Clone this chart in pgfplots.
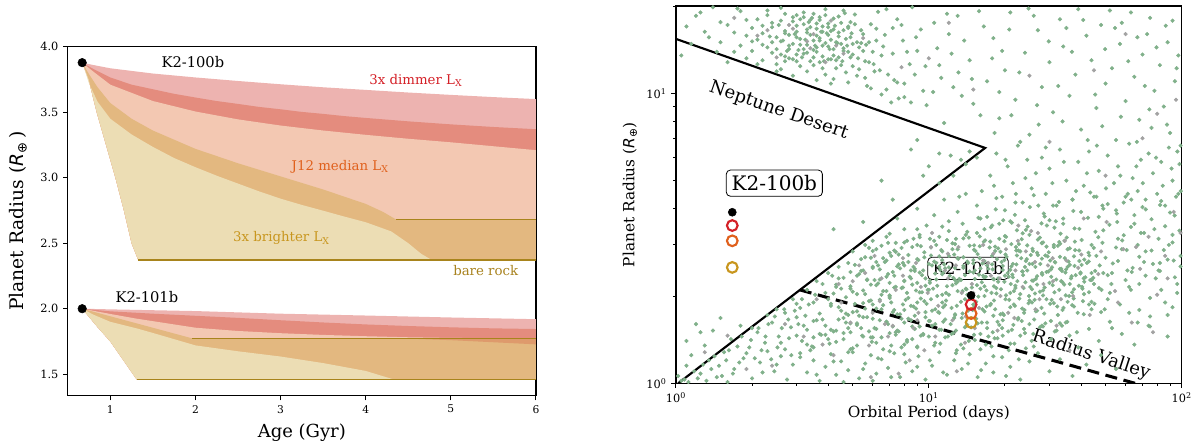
\documentclass[border=0pt]{standalone}
\usepackage{fontspec}
\setmainfont{DejaVu Serif}
\newfontfamily\dvsans{DejaVu Sans}
\usepackage{pgfplots}
\pgfplotsset{compat=1.18}

\definecolor{pinkband}{HTML}{EDB3B0}
\definecolor{redband}{HTML}{E48C7E}
\definecolor{salmon}{HTML}{F3C8B2}
\definecolor{darktan}{HTML}{E3B880}
\definecolor{beige}{HTML}{ECDDB4}
\definecolor{sliver}{HTML}{DE9A6C}
\definecolor{rockline}{HTML}{A8841C}
\definecolor{dimred}{HTML}{D42027}
\definecolor{medorange}{HTML}{E0601C}
\definecolor{brightgold}{HTML}{C8961E}
\definecolor{rocktext}{HTML}{A8821E}
\definecolor{scgreen}{HTML}{80B08A}
\definecolor{scgray}{HTML}{A2A2A2}

\newcommand{\Rearth}{{\dvsans\itshape R}\textsubscript{\dvsans ⊕}}

\begin{document}
\begin{tikzpicture}
\path[use as bounding box] (-50.8pt,-37.7pt) rectangle (847pt,296.8pt);

% ---------------- left: radius evolution ----------------
\begin{axis}[
  at={(0pt,0pt)}, anchor=south west, scale only axis,
  width=351.2pt, height=261.8pt,
  xmin=0.5, xmax=6, ymin=1.336, ymax=4.0,
  xtick={1,2,3,4,5,6}, ytick={1.5,2,2.5,3,3.5,4},
  tick pos=left, tick align=outside, major tick length=3.5pt,
  axis line style={line width=0.9pt},
  every tick/.style={black, line width=0.7pt},
  x tick label style={font=\fontsize{8}{9}\selectfont},
  y tick label style={font=\fontsize{8.5}{10}\selectfont},
  /pgf/number format/assume math mode=true,
  yticklabel={\pgfmathprintnumber[fixed,fixed zerofill,precision=1]{\tick}},
  xlabel={Age (Gyr)}, ylabel={Planet Radius (\Rearth\,)},
  xlabel style={font=\fontsize{13.5}{15}\selectfont, at={(axis description cs:0.5,-0.107)}, anchor=center},
  ylabel style={font=\fontsize{14}{16}\selectfont, at={(axis description cs:-0.106,0.5)}, anchor=center},
]
% K2-100b bands (painted top to bottom)
\addplot[fill=pinkband, draw=none] coordinates {(0.67,3.878)(0.8,3.86)(1,3.835)(1.5,3.795)(2,3.765)(2.5,3.738)(3,3.713)(3.5,3.69)(4,3.67)(4.5,3.65)(5,3.632)(5.5,3.615)(6,3.60)
  (6,2.37)(1.33,2.37)(1.25,2.5)(1.16,2.75)(1.06,3.0)(0.95,3.25)(0.84,3.5)(0.745,3.75)(0.67,3.878)};
\addplot[fill=redband, draw=none] coordinates {(0.67,3.878)(0.8,3.83)(1,3.765)(1.25,3.71)(1.5,3.675)(1.75,3.64)(2,3.612)(2.25,3.585)(2.5,3.563)(2.75,3.54)(3,3.522)(3.25,3.502)(3.5,3.487)(3.75,3.47)(4,3.456)(4.5,3.43)(5,3.407)(5.5,3.387)(6,3.37)
  (6,2.37)(1.33,2.37)(1.25,2.5)(1.16,2.75)(1.06,3.0)(0.95,3.25)(0.84,3.5)(0.745,3.75)(0.67,3.878)};
\addplot[fill=salmon, draw=none] coordinates {(0.67,3.878)(0.8,3.81)(1,3.71)(1.5,3.585)(2,3.505)(2.5,3.445)(3,3.398)(3.5,3.36)(4,3.327)(4.5,3.297)(5,3.27)(5.5,3.24)(6,3.21)
  (6,2.37)(1.33,2.37)(1.25,2.5)(1.16,2.75)(1.06,3.0)(0.95,3.25)(0.84,3.5)(0.745,3.75)(0.67,3.878)};
\addplot[fill=darktan, draw=none] coordinates {(0.67,3.878)(0.75,3.79)(0.85,3.69)(1,3.57)(1.25,3.45)(1.5,3.36)(2,3.22)(2.5,3.11)(3,3.01)(3.5,2.91)(4,2.80)(4.2,2.74)(4.36,2.68)(6,2.68)
  (6,2.37)(1.33,2.37)(1.25,2.5)(1.16,2.75)(1.06,3.0)(0.95,3.25)(0.84,3.5)(0.745,3.75)(0.67,3.878)};
\addplot[fill=beige, draw=none] coordinates {(0.67,3.878)(0.75,3.72)(0.85,3.58)(1,3.45)(1.25,3.33)(1.5,3.235)(1.75,3.15)(2,3.08)(2.25,3.015)(2.5,2.955)(2.75,2.895)(3,2.84)(3.25,2.792)(3.5,2.748)(3.75,2.703)(4,2.66)(4.3,2.59)(4.5,2.50)(4.65,2.42)(4.78,2.37)
  (1.33,2.37)(1.25,2.5)(1.16,2.75)(1.06,3.0)(0.95,3.25)(0.84,3.5)(0.745,3.75)(0.67,3.878)};
\addplot[rockline, line width=1.1pt] coordinates {(4.36,2.68)(6,2.68)};
\addplot[rockline, line width=1.1pt] coordinates {(1.33,2.37)(6,2.37)};

% K2-101b bands
\addplot[fill=pinkband, draw=none] coordinates {(0.67,2.0)(1,1.995)(2,1.982)(3,1.962)(4,1.948)(5,1.933)(6,1.92)
  (6,1.46)(1.31,1.46)(1.15,1.61)(1.0,1.75)(0.85,1.86)(0.67,2.0)};
\addplot[fill=redband, draw=none] coordinates {(0.67,2.0)(1,1.98)(1.5,1.962)(2,1.946)(2.5,1.93)(3,1.912)(3.5,1.895)(4,1.88)(4.5,1.868)(5,1.858)(5.5,1.85)(6,1.845)
  (6,1.46)(1.31,1.46)(1.15,1.61)(1.0,1.75)(0.85,1.86)(0.67,2.0)};
\addplot[fill=salmon, draw=none] coordinates {(0.67,2.0)(1,1.96)(1.3,1.925)(1.5,1.905)(2,1.855)(2.5,1.83)(3,1.813)(3.5,1.80)(4,1.79)(4.5,1.782)(5,1.777)(5.5,1.775)(6,1.775)
  (6,1.46)(1.31,1.46)(1.15,1.61)(1.0,1.75)(0.85,1.86)(0.67,2.0)};
\addplot[fill=darktan, draw=none] coordinates {(0.67,2.0)(1.96,1.774)(6,1.774)
  (6,1.46)(1.31,1.46)(1.15,1.61)(1.0,1.75)(0.85,1.86)(0.67,2.0)};
\addplot[fill=beige, draw=none] coordinates {(0.67,2.0)(0.8,1.955)(1,1.9)(1.31,1.85)(1.5,1.815)(2,1.72)(2.5,1.675)(3,1.635)(3.5,1.585)(4,1.525)(4.33,1.46)
  (1.31,1.46)(1.15,1.61)(1.0,1.75)(0.85,1.86)(0.67,2.0)};
\addplot[fill=sliver, draw=none] coordinates {(4.4,1.774)(6,1.774)(6,1.728)(5,1.76)};
\addplot[rockline, line width=1.1pt] coordinates {(1.96,1.774)(6,1.774)};
\addplot[rockline, line width=1.1pt] coordinates {(1.31,1.46)(6,1.46)};

\addplot[only marks, mark=*, mark size=3.2pt, black] coordinates {(0.67,3.878)(0.67,2.0)};

\node[font=\fontsize{11}{13}\selectfont] at (axis cs:1.97,3.885) {K2-100b};
\node[font=\fontsize{11}{13}\selectfont] at (axis cs:1.43,2.09) {K2-101b};
\node[font=\fontsize{10}{12}\selectfont, text=dimred] at (axis cs:4.59,3.74) {3x dimmer L\textsubscript{X}};
\node[font=\fontsize{10}{12}\selectfont, text=medorange] at (axis cs:3.70,3.084) {J12 median L\textsubscript{X}};
\node[font=\fontsize{10}{12}\selectfont, text=brightgold] at (axis cs:3.01,2.537) {3x brighter L\textsubscript{X}};
\node[font=\fontsize{10}{12}\selectfont, text=rocktext] at (axis cs:5.41,2.29) {bare rock};
\end{axis}

% ---------------- right: period-radius plane ----------------
\begin{axis}[
  at={(456.2pt,9.3pt)}, anchor=south west, scale only axis,
  width=379.3pt, height=283pt,
  xmode=log, ymode=log,
  xmin=1, xmax=100, ymin=1, ymax=20,
  xtick={1,10,100}, xticklabels={10\textsuperscript{0},10\textsuperscript{1},10\textsuperscript{2}},
  ytick={1,10}, yticklabels={10\textsuperscript{0},10\textsuperscript{1}},
  minor xtick={2,3,4,5,6,7,8,9,20,30,40,50,60,70,80,90},
  minor ytick={2,3,4,5,6,7,8,9,20},
  tick pos=left, tick align=outside, major tick length=3.5pt, minor tick length=2pt,
  axis line style={line width=0.9pt},
  every tick/.style={black, line width=0.7pt},
  tick label style={font=\fontsize{8.5}{10}\selectfont},
  xlabel={Orbital Period (days)}, ylabel={Planet Radius (\Rearth)},
  xlabel style={font=\fontsize{11.5}{13}\selectfont, at={(axis description cs:0.5,-0.079)}, anchor=center},
  ylabel style={font=\fontsize{11.5}{13}\selectfont, at={(axis description cs:-0.091,0.5)}, anchor=center},
]
% exoplanet sample
\addplot[only marks, mark=*, mark size=1.35pt, scgreen, mark options={draw=none}] coordinates {
(1.8,19.2)(2.3,18.6)(2.6,19.7)(2.9,18.3)(3.2,19.0)(3.5,18.8)(3.9,19.5)(4.2,18.1)(4.6,19.3)(5.1,18.7)(1.4,19.8)(6.3,19.1)(2.1,18.0)(3.7,17.9)(4.9,17.6)
(1.6,17.2)(2.0,16.8)(2.4,17.5)(2.7,16.4)(3.0,17.1)(3.3,16.6)(3.6,17.4)(4.0,16.9)(4.4,16.2)(4.8,17.0)(5.4,16.5)(2.2,16.1)(2.9,17.7)(3.4,15.9)(3.8,16.3)(1.9,15.8)(2.5,15.6)(5.9,17.3)(7.2,16.8)
(1.5,15.0)(1.8,14.6)(2.1,15.3)(2.3,14.4)(2.6,15.1)(2.8,14.2)(3.1,15.4)(3.3,14.7)(3.5,14.1)(3.7,15.2)(4.0,14.5)(4.3,15.0)(4.6,14.3)(5.0,14.8)(5.5,14.0)(2.4,13.8)(3.0,13.6)(3.6,13.9)(4.2,13.5)(6.2,15.2)(2.0,14.0)(2.7,13.4)
(2.2,13.0)(2.5,12.6)(2.8,13.2)(3.1,12.4)(3.4,12.9)(3.8,12.2)(4.1,13.1)(4.5,12.5)(4.9,13.3)(5.3,12.1)(5.8,12.8)(6.5,13.5)(3.2,13.7)(2.6,12.1)(4.7,11.8)(3.9,11.6)(5.6,11.3)
(4.2,11.2)(4.8,10.9)(5.2,11.5)(5.7,10.6)(6.1,11.9)(6.8,10.3)(7.3,11.1)(8.0,10.8)(8.8,11.6)(9.5,10.2)(7.6,9.6)(8.5,9.3)(9.8,9.1)(10.4,10.1)(11.2,11.3)(12.5,10.5)(13.1,11.8)
(1.1,17.0)(1.2,18.5)(1.3,16.3)
(2.5,14.2)(2.7,16.1)(2.9,13.1)(3.0,15.6)(3.2,17.3)(3.3,13.8)(3.5,15.2)(3.6,16.7)(3.8,13.4)(3.9,14.9)(4.1,16.4)(4.3,13.0)(4.4,15.7)(4.6,14.0)(4.8,16.8)(5.0,13.6)(5.2,15.0)(2.6,17.8)(2.8,15.9)(3.1,14.7)(3.4,16.9)(3.7,12.8)(4.0,15.9)(4.5,17.5)(3.2,18.3)(3.5,12.5)(2.9,14.8)(3.8,17.0)(4.2,14.2)(3.0,16.3)(3.6,14.4)(4.7,15.4)(2.4,16.9)(5.4,14.9)(3.3,11.9)(3.9,18.6)(4.4,13.3)(2.7,12.9)(3.1,18.0)(3.7,15.5)
(9,14)(11,12.5)(12,16)(13,18.5)(14.5,13)(15,9.2)(17,11)(18,15.5)(19,8.2)(20,12)(21,19)(22,9.5)(24,13.8)(25,7.2)(27,16.5)(28,10.5)(30,12.8)(31,8.6)(33,18)(34,14.5)(36,9.8)(38,11.6)(40,7.5)(42,15.8)(44,13)(46,8.9)(48,17.2)(50,10.8)(53,12.2)(55,6.9)(57,14.8)(60,9.4)(63,19)(65,11.4)(68,8.1)(70,13.6)(73,16)(76,7.6)(78,10.2)(82,12.5)(85,9)(88,15)(90,7.3)(94,11)(97,13.5)(11.5,7.9)(13.5,9.8)(16,8.4)(23,6.8)(26,18.5)(29,6.5)(35,16.8)(39,19.5)(52,19.3)(58,17.5)(75,18.2)(92,17.8)(10.5,17.5)(8.2,13.9)(9.3,16.6)(12.3,13.7)(16.5,17)(19.5,14)(6.8,19.5)(7.5,18.0)(8.6,19.8)
(17.5,5.2)(18.5,6.2)(19.5,4.4)(20.5,5.6)(21.5,4.9)(22.5,6.6)(23.5,4.2)(24.5,5.9)(25.5,4.7)(26.5,5.3)(28,6.0)(29,4.5)(30,5.5)(32,4.1)(33,6.4)(35,5.0)(37,4.3)(39,5.8)(41,4.8)(43,6.3)(45,4.4)(47,5.4)(49,4.0)(51,6.1)(54,4.9)(56,5.6)(59,4.2)(62,6.7)(64,5.1)(67,4.6)(69,5.9)(72,4.3)(74,6.2)(77,5.3)(80,4.5)(83,5.8)(86,4.1)(89,6.5)(92,5.0)(95,4.4)(98,5.7)(14,5.7)(15.5,6.0)(12.5,5.2)(11,6.2)(10,5.6)(9,6.9)(16.2,4.6)(13.2,4.4)
(1.05,1.02)(1.1,1.15)(1.15,1.25)(1.25,1.08)(1.35,1.2)(1.45,1.05)(1.55,1.28)(1.7,1.12)(1.85,1.22)(2.0,1.04)(2.15,1.18)(2.3,1.29)(2.45,1.1)(2.6,1.24)(2.75,1.03)(2.9,1.16)(3.1,1.27)(3.3,1.09)(3.5,1.2)(3.7,1.02)(3.9,1.14)(4.1,1.26)(4.3,1.07)(4.5,1.19)(4.8,1.11)(5.0,1.28)(5.3,1.04)(5.6,1.17)(5.9,1.25)(6.2,1.08)(6.5,1.21)(6.9,1.13)(7.3,1.27)(7.7,1.05)(8.1,1.18)(8.6,1.1)(9.1,1.24)(9.7,1.03)(10.3,1.15)(11,1.28)(11.8,1.07)(12.6,1.2)(13.5,1.12)(14.5,1.26)(15.6,1.05)(16.8,1.17)(18,1.09)(19.5,1.23)(21,1.14)(23,1.03)(25,1.19)(27,1.27)(30,1.1)(33,1.21)(37,1.06)(42,1.16)(48,1.25)(55,1.12)(3.4,1.3)(4.6,1.01)(6.0,1.02)(7.0,1.29)(2.2,1.09)(1.6,1.01)
(1.1,1.4)(1.2,1.6)(1.3,1.35)(1.4,1.52)(1.5,1.68)(1.65,1.42)(1.8,1.58)(1.95,1.33)(2.1,1.5)(2.25,1.38)(2.4,1.62)(2.55,1.45)(2.7,1.31)(2.85,1.56)(3.0,1.69)(3.15,1.4)(3.3,1.53)(3.45,1.34)(3.6,1.65)(3.75,1.47)(3.9,1.58)(4.05,1.37)(4.2,1.51)(4.4,1.66)(4.6,1.42)(4.8,1.55)(5.0,1.32)(5.2,1.61)(5.45,1.46)(5.7,1.69)(5.95,1.39)(6.2,1.54)(6.5,1.44)(6.8,1.63)(7.1,1.35)(7.4,1.5)(7.8,1.67)(8.2,1.41)(8.6,1.57)(9.0,1.33)(9.5,1.48)(10,1.64)(10.6,1.38)(11.2,1.53)(11.9,1.45)(12.6,1.68)(13.4,1.36)(14.2,1.59)(15.1,1.47)(16,1.31)(17,1.62)(18.2,1.43)(19.5,1.55)(21,1.37)(22.5,1.66)(24,1.49)(26,1.34)(28,1.58)(30.5,1.42)(33,1.61)(36,1.46)(39,1.33)(43,1.54)(47,1.4)(52,1.63)(58,1.48)(65,1.36)(75,1.57)(88,1.45)(2.0,1.55)(3.5,1.44)(4.9,1.5)(6.0,1.67)(8.0,1.36)(1.25,1.5)
(2.3,1.72)(2.5,1.8)(2.7,1.75)(2.9,1.95)(3.1,1.82)(3.3,2.1)(3.5,1.9)(3.7,1.74)(3.9,2.05)(4.1,1.85)(4.3,2.15)(4.5,1.78)(4.7,1.98)(4.9,2.12)(5.1,1.88)(5.3,1.71)(5.6,2.03)(5.9,1.93)(6.2,2.18)(6.5,1.8)(6.8,2.08)(7.1,1.9)(7.5,1.73)(7.9,2.14)(8.3,1.97)(8.7,1.84)(9.2,2.06)(9.7,1.76)(10.2,1.95)(10.8,2.17)(11.4,1.83)(12,2.02)(12.7,1.72)(13.4,1.91)(14.1,2.11)(14.9,1.79)(15.7,1.99)(16.6,2.16)(17.5,1.86)(18.5,2.04)(19.6,1.74)(20.8,1.94)(22,2.13)(23.4,1.81)(24.9,2.0)(26.5,1.77)(28.3,2.09)(30.2,1.88)(32.4,1.72)(34.8,2.01)(37.5,1.84)(40.5,2.12)(44,1.91)(48,1.76)(52,2.05)(57,1.87)(62,2.15)(68,1.79)(75,1.97)(83,2.1)(92,1.83)(5.0,1.76)(6.0,1.87)(7.0,2.0)(8.0,1.79)(9.0,1.9)(10.0,2.1)(11.0,1.75)(13.0,2.08)(15.0,1.87)(18,1.71)(21,2.05)(25,1.93)(3.0,1.88)(4.0,1.95)
(3.6,2.25)(4.0,2.4)(4.4,2.3)(4.8,2.6)(5.2,2.35)(5.6,2.72)(6.0,2.5)(6.4,2.28)(6.8,2.65)(7.2,2.42)(7.6,2.78)(8.0,2.55)(8.5,2.3)(9.0,2.68)(9.5,2.45)(10.1,2.22)(10.7,2.6)(11.3,2.38)(12,2.75)(12.7,2.5)(13.4,2.27)(14.2,2.63)(15,2.41)(15.9,2.7)(16.8,2.33)(17.8,2.57)(18.8,2.24)(19.9,2.66)(21,2.46)(22.3,2.76)(23.6,2.36)(25,2.58)(26.5,2.29)(28,2.69)(29.7,2.43)(31.5,2.62)(33.4,2.25)(35.4,2.52)(37.5,2.74)(39.8,2.39)(42.2,2.6)(44.7,2.31)(47.4,2.55)(50,2.71)(53,2.4)(56,2.64)(60,2.27)(64,2.5)(68,2.73)(72,2.35)(77,2.58)(82,2.44)(88,2.67)(94,2.32)(99,2.53)(7.0,2.22)(8.8,2.48)(11,2.52)(13,2.7)(16,2.49)(20,2.35)(24,2.52)(27,2.77)(33,2.48)(41,2.3)(6.2,2.62)(5.5,2.45)
(5.0,2.85)(5.6,3.0)(6.2,2.9)(6.8,3.2)(7.4,3.05)(8.0,3.4)(8.6,2.95)(9.2,3.25)(9.8,3.5)(10.5,3.1)(11.2,2.88)(12,3.35)(12.8,3.15)(13.6,3.55)(14.5,2.98)(15.5,3.3)(16.5,3.08)(17.6,3.45)(18.8,2.92)(20,3.22)(21.3,3.58)(22.7,3.02)(24.2,3.38)(25.8,2.86)(27.5,3.18)(29.3,3.5)(31.2,3.0)(33.2,3.28)(35.4,2.9)(37.7,3.42)(40.2,3.12)(42.8,2.82)(45.6,3.33)(48.6,3.05)(51.8,3.52)(55,2.94)(59,3.24)(63,3.46)(67,3.0)(71,3.3)(76,2.87)(81,3.15)(86,3.48)(92,3.06)(98,3.36)(7.0,2.82)(9.0,3.0)(11,3.2)(14,3.25)(19,3.15)(23,2.85)(28,3.05)(34,3.55)(44,3.0)(6.0,3.1)
(7.5,3.7)(9,4.0)(10.5,3.8)(11.5,4.3)(13,3.9)(14,4.5)(15.5,4.1)(17,3.75)(18.5,4.35)(20,3.95)(22,4.2)(24,3.65)(26,4.45)(28.5,3.85)(31,4.1)(34,3.7)(37,4.3)(40,3.9)(43.5,4.55)(47,3.75)(51,4.15)(55,3.95)(60,4.4)(65,3.8)(70,4.05)(76,3.68)(83,4.25)(90,3.88)(97,4.5)(12,3.62)(16,3.7)(21,3.62)(30,3.65)(46,4.4)
(4.4,1.83)(5.2,1.77)(5.8,1.92)(6.6,1.86)(7.3,1.79)(8.1,1.94)(8.9,1.81)(9.8,1.88)(10.9,1.76)(11.7,1.93)(12.9,1.85)(14.3,1.78)(15.4,1.91)(16.9,1.84)(18.3,1.8)(20.1,1.95)(21.7,1.87)(23.8,1.75)(25.6,1.9)(27.9,1.82)(30.6,1.94)(33.8,1.79)(36.9,1.86)(40.7,1.92)
(4.2,2.04)(4.9,2.16)(5.5,2.09)(6.3,2.21)(7.0,2.01)(7.8,2.13)(8.6,2.19)(9.4,2.06)(10.4,2.12)(11.3,2.02)(12.4,2.18)(13.6,2.08)(14.8,2.14)(16.2,2.23)(17.7,2.05)(19.3,2.11)(21.1,2.2)(23.0,2.03)(25.2,2.15)(27.5,2.07)(30.0,2.22)(32.8,2.1)(35.9,2.0)(39.2,2.17)(43.0,2.06)(47.1,2.13)
(4.6,2.31)(5.4,2.44)(6.1,2.27)(6.9,2.38)(7.7,2.49)(8.4,2.33)(9.2,2.41)(10.1,2.26)(11.1,2.46)(12.1,2.35)(13.2,2.29)(14.5,2.43)(15.8,2.37)(17.2,2.48)(18.8,2.3)(20.5,2.4)(22.4,2.25)(24.5,2.45)(26.8,2.34)(29.2,2.42)(31.9,2.28)(34.9,2.47)(38.1,2.36)(41.6,2.32)(45.5,2.44)
(5.1,2.56)(5.9,2.71)(6.7,2.62)(7.5,2.53)(8.3,2.77)(9.1,2.66)(10.0,2.58)(11.0,2.74)(12.0,2.51)(13.1,2.69)(14.3,2.6)(15.6,2.79)(17.0,2.55)(18.6,2.68)(20.3,2.73)(22.2,2.57)(24.2,2.64)(26.4,2.52)(28.9,2.76)(31.6,2.61)(34.5,2.7)(37.7,2.54)(41.2,2.67)
(6.0,2.86)(6.9,3.05)(7.8,2.93)(8.7,3.15)(9.6,2.83)(10.7,3.0)(11.8,3.12)(13.0,2.9)(14.4,3.18)(15.9,2.97)(17.5,3.08)(19.2,2.84)(21.2,3.02)(23.3,3.14)(25.7,2.91)(28.3,3.06)(31.2,2.95)(34.4,3.1)(37.9,2.88)
(3.2,1.58)(3.8,1.66)(4.3,1.52)(4.9,1.61)(5.5,1.69)(6.1,1.55)(6.8,1.63)(7.6,1.51)(8.3,1.67)(9.2,1.57)(10.1,1.64)(11.0,1.53)(12.2,1.6)(13.5,1.68)(14.7,1.56)(16.2,1.62)(17.9,1.5)(19.6,1.65)(21.6,1.59)(23.8,1.54)(26.1,1.66)(28.9,1.61)(32.0,1.52)(35.3,1.63)
(2.6,1.38)(3.0,1.46)(3.5,1.33)(4.0,1.42)(4.6,1.49)(5.2,1.35)(5.9,1.44)(6.6,1.31)(7.4,1.47)(8.2,1.39)(9.0,1.34)(10.0,1.45)(11.1,1.37)(12.3,1.48)(13.7,1.32)(15.2,1.41)(16.8,1.36)(18.7,1.43)(20.7,1.3)(23.0,1.46)(25.5,1.4)
(4.7,1.74)(5.5,1.89)(6.2,1.81)(7.0,1.97)(7.7,1.73)(8.5,1.85)(9.3,1.96)(10.3,1.78)(11.3,1.9)(12.3,1.82)(13.6,1.74)(14.9,1.97)(16.3,1.8)(17.6,1.88)(19.2,1.73)(21.0,1.83)(22.8,1.96)(24.8,1.89)(26.8,1.78)(29.2,1.95)(32.2,1.84)(35.4,1.91)(38.8,1.75)(43,1.87)
(4.5,2.12)(5.2,2.03)(5.9,2.19)(6.6,2.08)(7.4,2.15)(8.2,2.05)(9.0,2.22)(9.9,2.1)(10.8,2.0)(11.8,2.16)(13.0,2.24)(14.2,2.02)(15.5,2.18)(16.9,2.09)(18.5,2.13)(20.2,2.01)(22.0,2.17)(24.1,2.23)(26.3,2.04)(28.7,2.14)(31.4,2.06)(34.3,2.19)(37.5,2.11)(41.1,2.03)(45.0,2.2)
(4.9,2.42)(5.7,2.28)(6.4,2.47)(7.3,2.35)(8.0,2.26)(8.8,2.44)(9.7,2.3)(10.6,2.39)(11.6,2.49)(12.7,2.27)(13.9,2.36)(15.2,2.45)(16.5,2.32)(18.0,2.29)(19.6,2.46)(21.4,2.37)(23.4,2.43)(25.6,2.26)(28.0,2.4)(30.5,2.33)(33.4,2.48)(36.5,2.3)(39.8,2.41)(43.5,2.27)
(5.4,2.68)(6.3,2.55)(7.1,2.75)(7.9,2.6)(8.7,2.52)(9.6,2.72)(10.5,2.63)(11.5,2.57)(12.6,2.78)(13.7,2.54)(15.0,2.66)(16.3,2.59)(17.8,2.75)(19.4,2.62)(21.2,2.53)(23.2,2.7)(25.3,2.77)(27.6,2.58)(30.2,2.65)(33.0,2.73)(36.1,2.56)(39.4,2.64)(43.1,2.76)
(6.5,2.98)(7.3,2.87)(8.2,3.1)(9.2,3.19)(10.2,2.94)(11.3,2.85)(12.4,3.04)(13.7,3.16)(15.1,2.89)(16.7,3.11)(18.3,2.96)(20.2,3.2)(22.2,2.87)(24.5,2.99)(27.0,3.13)(29.8,2.83)(32.8,3.07)(36.1,2.92)
(3.5,1.64)(4.1,1.53)(4.6,1.68)(5.2,1.59)(5.8,1.51)(6.4,1.65)(7.2,1.57)(8.0,1.62)(8.8,1.54)(9.7,1.69)(10.6,1.6)(11.6,1.66)(12.8,1.52)(14.1,1.58)(15.4,1.67)(17.0,1.55)(18.7,1.63)(20.6,1.51)(22.6,1.68)(25.0,1.6)(27.5,1.56)(30.4,1.64)(33.6,1.58)
(2.8,1.43)(3.3,1.36)(3.7,1.48)(4.3,1.39)(4.9,1.31)(5.5,1.45)(6.2,1.38)(7.0,1.49)(7.8,1.33)(8.6,1.42)(9.5,1.47)(10.5,1.35)(11.6,1.44)(12.9,1.3)(14.4,1.4)(16.0,1.48)(17.7,1.34)(19.6,1.46)(21.8,1.37)(24.2,1.32)
(2.5,1.16)(3.1,1.23)(3.6,1.07)(4.2,1.19)(4.8,1.28)(5.5,1.12)(6.3,1.22)(7.1,1.05)(8.0,1.26)(9.0,1.14)(10.1,1.2)(11.4,1.09)(12.8,1.27)(14.3,1.17)(16.1,1.11)(18.0,1.24)(20.2,1.06)(22.7,1.21)
(44,1.8)(49,2.4)(53,1.55)(58,2.9)(63,2.1)(69,3.3)(75,1.7)(82,2.6)(89,3.0)(96,2.2)(46,2.75)(51,1.95)(56,3.15)(61,2.45)(67,1.62)(72,2.85)(79,2.3)(86,1.9)(93,2.65)
};
\addplot[only marks, mark=*, mark size=1.35pt, scgreen, mark options={draw=none}] coordinates {
(1.5,17.6)(1.7,16.2)(1.9,17.9)(2.0,15.1)(2.2,17.1)(2.3,19.3)(2.4,15.0)(2.6,13.6)(2.7,18.8)(2.8,14.6)(3.0,12.9)(3.0,18.6)(3.2,14.2)(3.3,16.2)(3.4,17.9)(3.5,13.3)(3.6,15.8)(3.7,18.3)(3.8,14.6)(4.0,13.1)(4.0,17.4)(4.1,15.3)(4.2,16.6)(4.3,12.2)(4.4,18.4)(4.5,14.8)(4.6,16.5)(4.8,13.9)(4.9,15.6)(5.0,12.4)(5.1,17.3)(5.3,14.4)(5.5,16.0)(5.6,12.9)(5.8,15.0)(6.0,13.9)(6.2,16.7)(6.4,12.0)(6.6,14.5)(6.9,11.6)(7.2,13.7)(7.5,10.9)(7.9,15.2)(8.4,12.6)(1.7,13.9)(1.9,13.2)(2.1,12.6)(2.2,14.7)(2.5,11.9)(2.9,11.5)(3.6,11.1)(4.1,10.8)(5.9,10.4)(6.5,9.9)(7.1,9.3)(8.0,9.7)
(2.35,15.7)(2.55,17.2)(2.75,14.0)(2.95,16.0)(3.15,13.3)(3.25,15.3)(3.45,18.2)(3.55,14.6)(3.75,16.3)(3.85,12.9)(4.05,14.2)(4.25,17.1)(4.35,14.9)(4.55,12.9)(4.75,14.6)(4.95,16.1)(5.25,13.2)(5.65,14.7)(6.05,12.6)(6.7,15.9)(3.05,14.1)(3.35,17.6)(3.95,16.1)(2.65,15.2)(4.65,18.9)
(15.3,2.86)(16.6,3.4)(18.1,2.28)(19.7,3.65)(21.5,2.58)(23.5,3.29)(25.6,2.11)(27.9,3.56)(30.4,2.47)(33.1,3.03)(36.1,2.2)(39.4,3.41)(42.9,2.63)(46.8,3.19)(51.0,2.36)(55.6,3.6)(60.6,2.88)
(16.0,2.12)(17.4,2.94)(19.0,3.55)(20.7,2.33)(22.6,2.87)(24.6,3.47)(26.8,2.19)(29.2,2.96)(31.8,3.62)(34.7,2.41)(37.8,3.08)(41.2,2.24)(44.9,2.93)(49.0,3.37)(53.4,2.59)(58.2,3.11)(63.5,2.42)
(15.7,3.72)(18.4,3.98)(21.9,3.81)(25.1,4.05)(28.7,3.76)(32.7,4.22)(37.3,3.93)(42.6,3.72)(48.6,4.1)(55.4,3.85)(63.2,4.3)(72.1,3.98)(82.2,4.12)(93.8,3.79)
(62,1.75)(68,2.2)(74,1.58)(81,2.45)(88,1.72)(96,2.05)(65,3.55)(71,2.62)(78,3.4)(85,2.88)(92,3.25)(99,2.75)
(1.02,1.06)(1.08,1.03)(1.12,1.01)(1.18,1.1)(1.22,1.04)(1.28,1.16)(1.32,1.02)(1.38,1.12)(1.42,1.24)(1.48,1.15)(1.52,1.06)(1.58,1.2)(1.62,1.3)(1.68,1.08)(1.75,1.34)(1.78,1.18)(1.82,1.45)(1.9,1.27)(1.98,1.41)(2.05,1.22)(2.12,1.55)(2.18,1.3)(2.26,1.45)(2.32,1.6)(2.38,1.21)(2.46,1.7)(2.52,1.33)(2.62,1.55)(2.68,1.8)(2.78,1.66)(2.86,1.25)(2.95,1.78)(3.05,1.6)(3.15,1.95)(3.25,1.71)(3.35,1.87)(3.55,2.02)(3.8,2.2)(4.15,2.35)(4.4,2.52)
(1.05,13.5)(1.15,14.8)(1.25,19.0)(1.35,15.6)(1.45,13.9)(1.6,12.8)(1.75,19.6)(7.8,17.2)(8.9,15.6)(9.7,12.4)(10.8,14.3)(11.8,18.8)(13.8,15.2)(14.8,11.2)(15.8,19.2)(17.8,13.2)(19.0,10.1)(20.8,16.6)(22.8,11.8)(24.8,19.6)(26.8,9.1)(29.8,15.1)(32.5,10.6)(36.8,13.9)(40.8,17.9)(45.5,9.9)(49.8,14.2)(54.5,16.8)(61.5,12.9)(66.8,15.6)(71.5,10.6)(79.5,14.4)(86.5,17.1)(95.5,12.2)(18.2,7.3)(21.2,8.4)(27.2,7.8)(33.8,8.0)(42.5,6.9)(48.5,7.7)(57.5,8.3)(66.5,6.8)(74.5,8.8)(87.5,7.8)(99,6.6)
(18.1,4.8)(20.1,5.9)(22.1,4.5)(24.1,5.1)(27.1,4.1)(30.8,4.9)(34.2,5.8)(38.2,4.6)(42.2,5.3)(46.2,6.6)(50.2,4.7)(57.2,5.2)(61.2,4.5)(66.2,5.6)(70.2,4.9)(79.2,6.0)(84.2,4.8)(91.2,5.5)(96.2,6.3)(99.2,4.6)
(5.5,3.6)(7.2,4.3)(9.5,5.2)(12.2,6.1)(14.5,6.3)(6.5,5.0)(8.5,6.4)(4.2,3.4)(11,4.9)(13.4,5.9)
(3.9,1.47)(4.7,1.62)(5.4,1.55)(6.0,1.44)(6.9,1.6)(7.5,1.52)(8.5,1.65)(9.3,1.46)(10.3,1.58)(11.4,1.63)(12.5,1.49)(13.9,1.56)(15.6,1.61)(17.2,1.45)(19.0,1.59)(21.3,1.53)(23.3,1.64)(25.9,1.48)(28.3,1.57)(31.5,1.51)(34.8,1.62)(38.5,1.5)
(4.1,1.88)(4.8,1.72)(5.6,1.81)(6.4,1.94)(7.2,1.76)(7.9,1.87)(8.8,1.71)(9.6,1.92)(10.6,1.8)(11.6,1.86)(12.7,1.73)(13.9,1.95)(15.1,1.83)(16.6,1.77)(18.1,1.93)(19.8,1.72)(21.9,1.85)(23.9,1.79)(26.2,1.94)(28.6,1.74)(31.2,1.89)(34.1,1.82)(37.4,1.96)(41.0,1.73)(45.2,1.88)(49.6,1.8)
(4.3,2.19)(5.0,2.07)(5.7,2.27)(6.5,2.02)(7.3,2.14)(8.0,2.25)(8.9,2.09)(9.7,2.17)(10.7,2.28)(11.7,2.05)(12.8,2.21)(14.0,2.12)(15.2,2.29)(16.6,2.0)(18.1,2.16)(19.9,2.24)(21.7,2.08)(23.7,2.13)(25.9,2.26)(28.3,2.01)(30.9,2.18)(33.8,2.23)(36.9,2.06)(40.4,2.15)(44.1,2.27)(48.2,2.1)(52.7,2.2)
(5.3,2.38)(6.0,2.52)(6.8,2.33)(7.6,2.57)(8.5,2.45)(9.4,2.36)(10.3,2.55)(11.4,2.41)(12.5,2.31)(13.7,2.5)(15.0,2.59)(16.4,2.35)(17.9,2.47)(19.6,2.54)(21.5,2.32)(23.5,2.43)(25.7,2.58)(28.1,2.37)(30.7,2.51)(33.6,2.44)(36.7,2.34)(40.2,2.56)(44.0,2.4)
(5.8,2.93)(6.6,2.7)(7.4,2.84)(8.3,2.62)(9.3,2.97)(10.2,2.76)(11.3,2.66)(12.4,2.9)(13.7,2.72)(15.1,2.99)(16.6,2.64)(18.3,2.86)(20.1,2.78)(22.1,2.95)(24.4,2.68)(26.8,2.82)(29.5,2.74)(32.4,2.98)(35.7,2.63)(39.3,2.87)
(7.0,3.28)(8.0,3.06)(9.0,3.4)(10.1,3.15)(11.3,3.47)(12.7,3.02)(14.2,3.33)(15.9,3.21)(17.8,3.5)(19.9,3.09)(22.3,3.37)(25.0,3.25)(28.0,3.04)(31.4,3.44)(35.1,3.18)
};
\addplot[only marks, mark=*, mark size=1.35pt, scgray, mark options={draw=none}] coordinates {
(2.1,15.8)(2.9,16.7)(3.4,14.3)(4.1,17.8)(2.5,13.3)(3.9,12.8)(5.5,15.5)(1.7,18.2)(7.8,12.3)(10,13.2)(15,10.3)(25,11.5)(45,12)(60,16)(80,8.5)(30,6.8)(50,5.2)(70,7.0)(95,9.5)(12,17.5)(3.3,15.1)(4.3,14.6)(2.8,17.2)(3.5,16.0)(4.6,13.7)(2.3,16.5)
(2.4,1.15)(3.2,1.45)(4.2,1.25)(4.9,1.62)(5.8,1.35)(6.4,1.92)(7.2,1.58)(7.9,2.35)(8.4,1.2)(9.1,1.75)(9.9,2.05)(10.6,1.45)(11.6,2.45)(12.4,1.65)(13.1,2.95)(13.9,1.38)(14.8,2.2)(15.8,1.82)(17.2,2.6)(18.7,1.52)(20.2,2.9)(21.8,1.68)(23.5,2.15)(25.4,3.35)(27.4,1.95)(29.6,2.55)(32,1.58)(34.5,3.1)(37.2,2.0)(40.1,2.78)(43.3,1.72)(46.8,2.38)(50.5,3.6)(54.5,2.08)(58.8,2.9)(63.5,1.62)(68.5,2.48)(74,3.2)(80,2.02)(86,2.75)(93,3.9)(1.3,1.28)(1.6,1.46)(1.9,1.12)(2.7,1.6)(3.6,1.95)(4.4,2.2)(5.3,2.55)(6.1,2.75)(6.9,1.45)(7.6,1.08)(8.9,2.6)(10.3,3.3)(11.9,2.8)(12.9,1.1)(16.4,3.0)(19.1,2.3)(22.6,3.5)(26.3,2.62)(31,2.25)(36,1.3)(41,3.7)(48,2.85)(56,1.9)(66,2.95)(77,1.5)(88,2.3)(99,3.3)(5.9,1.05)(3.8,1.36)(9.6,1.3)(15.2,1.55)
(4.5,1.9)(5.6,2.4)(6.7,1.6)(7.9,2.7)(9.3,2.15)(10.9,1.85)(12.8,2.55)(15.0,2.05)(17.6,2.35)(20.6,1.75)(24.2,2.85)(28.4,2.2)(33.3,1.95)(39.0,2.5)(5.0,2.25)(6.0,1.75)(7.4,2.1)(8.7,1.55)(10.2,2.95)(11.9,2.3)(14.0,1.7)(16.4,2.65)(19.2,2.0)(22.5,3.1)(26.4,1.8)(30.9,2.7)(18,2.8)(22,2.45)(27,3.3)(35,2.65)(13.5,2.05)(9.0,1.65)(6.5,2.3)
};

% Neptune desert and radius valley
\addplot[black, line width=1.6pt] coordinates {(1,15.4)(16.7,6.48)(1.02,1)};
\addplot[black, line width=2.3pt, dash pattern=on 9pt off 5pt] coordinates {(3.09,2.10)(65.4,1)};

\node[font=\fontsize{13.5}{15}\selectfont, rotate=-19] at (axis cs:2.55,8.7) {Neptune Desert};
\node[font=\fontsize{13.5}{15}\selectfont, rotate=-18] at (axis cs:43.8,1.25) {Radius Valley};

% K2-100b and K2-101b
\addplot[only marks, mark=o, mark size=4pt, line width=1.6pt, brightgold, mark options={fill=white}] coordinates {(1.67,2.51)(14.7,1.62)};
\addplot[only marks, mark=o, mark size=4pt, line width=1.6pt, medorange, mark options={fill=white}] coordinates {(1.67,3.10)(14.7,1.74)};
\addplot[only marks, mark=o, mark size=4pt, line width=1.6pt, dimred, mark options={fill=white}] coordinates {(1.67,3.50)(14.7,1.87)};
\addplot[only marks, mark=*, mark size=3pt, black] coordinates {(1.67,3.89)(14.7,2.01)};

\node[draw=black, fill=white, rounded corners=3pt, inner sep=4pt, line width=0.6pt, font=\fontsize{15}{17}\selectfont] at (axis cs:2.45,4.9) {K2-100b};
\node[draw=black, fill=white, rounded corners=3pt, inner sep=3.5pt, line width=0.6pt, font=\fontsize{12.5}{14}\selectfont] at (axis cs:14.3,2.49) {K2-101b};
\end{axis}
\end{tikzpicture}
\end{document}
